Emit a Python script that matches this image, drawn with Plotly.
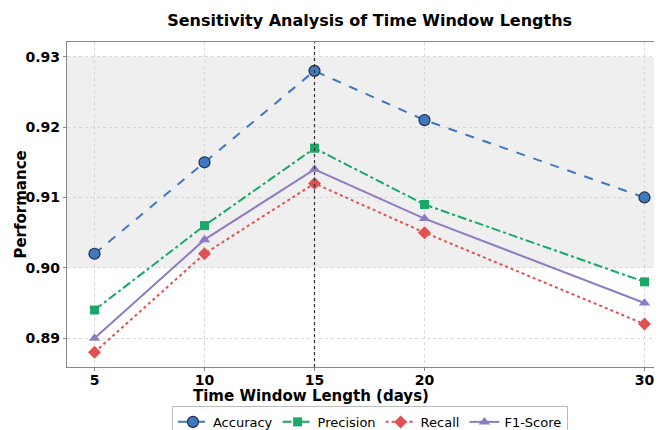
import plotly.graph_objects as go

windows = [5, 10, 15, 20, 30]
accuracy = [0.902, 0.915, 0.928, 0.921, 0.910]
precision = [0.894, 0.906, 0.917, 0.909, 0.898]
recall = [0.888, 0.902, 0.912, 0.905, 0.892]
f1 = [0.890, 0.904, 0.914, 0.907, 0.895]
y_ticks = [0.89, 0.90, 0.91, 0.92, 0.93]
best_window = 15
band = [0.90, 0.93]

series = [
    ("Accuracy", accuracy, "#3f78bf", "dash", "circle", 11, "#1f2f4f", 1.2),
    ("Precision", precision, "#1aa866", "dashdot", "square", 9, "#1aa866", 0),
    ("Recall", recall, "#e05252", "dot", "diamond", 10, "#e05252", 0),
    ("F1-Score", f1, "#8e7cc3", "solid", "triangle-up", 10, "#8e7cc3", 0),
]

fig = go.Figure()
for name, vals, color, dash, sym, size, lc, lw in series:
    fig.add_trace(go.Scatter(
        x=windows, y=vals, name=name, mode="lines+markers",
        line=dict(color=color, dash=dash, width=2),
        marker=dict(symbol=sym, size=size, color=color, line=dict(color=lc, width=lw)),
    ))

fig.add_shape(type="rect", xref="paper", x0=0, x1=1, yref="y", y0=band[0], y1=band[1],
              fillcolor="#efefef", line=dict(width=0), layer="below")
fig.add_vline(x=best_window, line=dict(color="#333333", width=1.2, dash="dot"))

fig.add_annotation(text="<b>Performance</b>", xref="paper", yref="paper", x=-0.079, y=0.5,
                   xanchor="center", yanchor="middle", textangle=-90, showarrow=False,
                   font=dict(size=15))
fig.add_annotation(text="<b>Time Window Length (days)</b>", xref="paper", yref="paper",
                   x=0.41, y=-0.089, xanchor="center", yanchor="middle", showarrow=False,
                   font=dict(size=15))

fig.update_layout(
    width=654, height=422,
    margin=dict(l=59, r=1, t=34, b=63, autoexpand=False),
    paper_bgcolor="white", plot_bgcolor="white",
    font=dict(family="DejaVu Sans", color="black"),
    title=dict(text="<b>Sensitivity Analysis of Time Window Lengths</b>", x=0.553, xanchor="center",
               y=0.9716, yanchor="middle", font=dict(size=16)),
    legend=dict(orientation="h", x=0.51, xanchor="center", y=-0.169, yanchor="middle",
                bordercolor="#bbbbbb", borderwidth=1, font=dict(size=13),
                itemwidth=30, traceorder="normal"),
    xaxis=dict(
        range=[3.75, 30.75], tickvals=windows, ticktext=[f"<b>{w}</b>" for w in windows],
        tickfont=dict(size=14), showline=True, linecolor="#888888", linewidth=1.2, mirror=True,
        showgrid=True, gridcolor="#d8d8d8", griddash="dot", gridwidth=1,
        ticks="outside", ticklen=3, tickcolor="#888888", zeroline=False, automargin=False,
        ticklabelstandoff=-3,
    ),
    yaxis=dict(
        range=[0.8859, 0.9321], tickvals=y_ticks, ticktext=[f"<b>{v:.2f}</b>" for v in y_ticks],
        tickfont=dict(size=14), showline=True, linecolor="#888888", linewidth=1.2,
        showgrid=True, gridcolor="#d8d8d8", griddash="dot", gridwidth=1,
        ticks="outside", ticklen=3, tickcolor="#888888", zeroline=False, automargin=False,
    ),
)

fig.write_html("out.html")
